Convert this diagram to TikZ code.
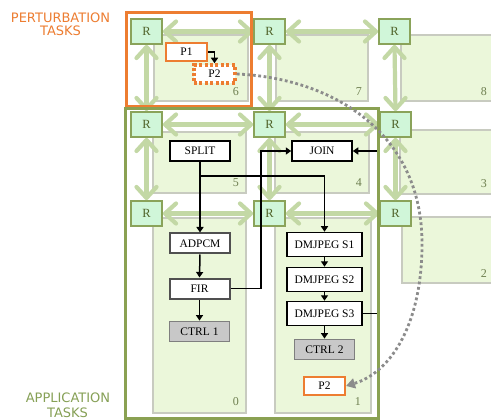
\documentclass[tikz,border=0pt]{standalone}
\usepackage{fontspec}
\setmainfont{Liberation Serif}
\newfontfamily\labelfont{DejaVu Sans}
\usetikzlibrary{arrows.meta}
\definecolor{tilefill}{HTML}{EBF7DA}
\definecolor{tileedge}{HTML}{C8CBC0}
\definecolor{rarrowc}{HTML}{C3D8A5}
\definecolor{rfill}{HTML}{D0F6D9}
\definecolor{redge}{HTML}{8AA35A}
\definecolor{rtext}{HTML}{4F6228}
\definecolor{orangec}{HTML}{ED7D31}
\definecolor{greenbox}{HTML}{8AA152}
\definecolor{greentext}{HTML}{86A055}
\definecolor{numc}{HTML}{6E7F50}
\definecolor{ctrlfill}{HTML}{C8C8C8}
\definecolor{ctrledge}{HTML}{7F7F7F}
\definecolor{curvec}{HTML}{8C8C8C}
\definecolor{darkedge}{HTML}{505050}
\newcommand\hlink[2]{\draw[rshaft] (#1.east) -- (#2.west);
  \pic[rotate=180] at (#1.east) {chev}; \pic at (#2.west) {chev};}
\newcommand\vlink[2]{\draw[rshaft] (#1.south) -- (#2.north);
  \pic[rotate=90] at (#1.south) {chev}; \pic[rotate=-90] at (#2.north) {chev};}
\begin{document}
\begin{tikzpicture}[x=1pt,y=-1pt,
  tile/.style={fill=tilefill, draw=tileedge, line width=2.8pt},
  rshaft/.style={draw=rarrowc, line width=4.2pt, shorten <=2pt, shorten >=2pt},
  chev/.pic={\draw[draw=rarrowc, line width=4.2pt, line join=round, line cap=round]
      (-13,-10) -- (-2,0) -- (-13,10);},
  router/.style={fill=rfill, draw=redge, line width=2pt, minimum width=31pt,
    minimum height=25pt, inner sep=0pt, text=rtext, font=\fontsize{12.5}{13}\selectfont},
  tilenum/.style={anchor=base east, inner sep=0pt, text=numc, font=\fontsize{12}{13}\selectfont},
  sidelab/.style={anchor=base, inner sep=0pt, font=\labelfont\fontsize{13}{14}\selectfont},
  taskbox/.style={fill=white, draw=black, line width=1.5pt, inner sep=0pt,
    minimum width=60pt, minimum height=20pt, font=\fontsize{11.5}{12}\selectfont},
  darktask/.style={taskbox, draw=darkedge, line width=2pt},
  ctrltask/.style={taskbox, fill=ctrlfill, draw=ctrledge, line width=1.8pt},
  jpegtask/.style={taskbox, minimum width=75pt, minimum height=24pt},
  ptask/.style={taskbox, draw=orangec, line width=2pt, minimum width=41pt, minimum height=18pt},
  pdotted/.style={taskbox, draw=orangec, line width=3.5pt, dash pattern=on 3pt off 2.4pt,
    minimum width=41pt, minimum height=18pt},
  conn/.style={draw=black, line width=1.5pt, -{Triangle[length=5.5pt,width=7pt]}},
  migr/.style={draw=curvec, line width=2.8pt, dash pattern=on 2.8pt off 2.6pt,
    -{Triangle[length=9pt,width=10pt]}}
]
\useasboundingbox (0,0) rectangle (491,420);
\clip (0,0) rectangle (491,420);
\fill[white] (0,0) rectangle (491,420);

% tiles
\draw[tile] (154,35) rectangle (248,101);
\draw[tile] (276,35) rectangle (368,101);
\draw[tile] (401,35) rectangle (500,101);
\draw[tile] (153,132) rectangle (246,193);
\draw[tile] (275,132) rectangle (369,193);
\draw[tile] (400,130) rectangle (500,194);
\draw[tile] (153,218) rectangle (246,413);
\draw[tile] (275,218) rectangle (371,413);
\draw[tile] (402,217) rectangle (500,283);

% tile numbers
\node[tilenum] (n6) at (239,96) {6};
\node[tilenum] (n7) at (362,96) {7};
\node[tilenum] (n8) at (487,96) {8};
\node[tilenum] (n5) at (239,187) {5};
\node[tilenum] (n4) at (362,187) {4};
\node[tilenum] (n3) at (487,188) {3};
\node[tilenum] (n2) at (487,277) {2};
\node[tilenum] (n0) at (239,405) {0};
\node[tilenum] (n1) at (361,405) {1};

% routers
\node[router] (r00) at (146.5,31.5) {R};
\node[router] (r01) at (269.5,31.5) {R};
\node[router] (r02) at (394.5,31.5) {R};
\node[router] (r10) at (146.5,124.5) {R};
\node[router] (r11) at (269.5,124.5) {R};
\node[router] (r12) at (395.5,124.5) {R};
\node[router] (r20) at (146.5,213.5) {R};
\node[router] (r21) at (269.5,213.5) {R};
\node[router] (r22) at (395.5,213.5) {R};

% router links
\hlink{r00}{r01}
\hlink{r01}{r02}
\hlink{r10}{r11}
\hlink{r11}{r12}
\hlink{r20}{r21}
\hlink{r21}{r22}
\vlink{r00}{r10}
\vlink{r01}{r11}
\vlink{r02}{r12}
\vlink{r10}{r20}
\vlink{r11}{r21}
\vlink{r12}{r22}

% application tasks
\node[taskbox] (split) at (200,151) {SPLIT};
\node[taskbox] (join) at (322,151) {JOIN};
\node[darktask] (adpcm) at (200,243.5) {ADPCM};
\node[darktask] (fir) at (199.5,288.5) {FIR};
\node[ctrltask] (ctrl1) at (199.5,331.5) {CTRL 1};
\node[jpegtask] (s1) at (324.5,244.5) {DMJPEG S1};
\node[jpegtask] (s2) at (324.5,279.5) {DMJPEG S2};
\node[jpegtask] (s3) at (324.5,313.5) {DMJPEG S3};
\node[ctrltask] (ctrl2) at (324.5,349.5) {CTRL 2};
\node[ptask] (p2a) at (324.5,386) {P2};

% perturbation tasks
\node[ptask] (p1) at (186.5,52) {P1};
\node[pdotted] (p2) at (214.5,74) {P2};

% connectors
\coordinate (sb) at (200,176);
\coordinate (fj) at (261,0);
\coordinate (sj) at (378,0);
\draw[conn] (split.south) -- (adpcm.north);
\draw[conn] (sb) -| (s1.north);
\draw[conn] (adpcm.south) -- (fir.north);
\draw[conn] (fir.south) -- (ctrl1.north);
\draw[conn] (fir.east) -| (fj |- join.west) -- (join.west);
\draw[conn] (s1.south) -- (s2.north);
\draw[conn] (s2.south) -- (s3.north);
\draw[conn] (s3.south) -- (ctrl2.north);
\draw[conn] (s3.east) -| (sj |- join.east) -- (join.east);
\draw[conn] (p1.east) -| (p2.north);

% redraw boxes over connector lines
\node[taskbox] at (split) {SPLIT};
\node[taskbox] at (join) {JOIN};
\node[darktask] at (fir) {FIR};

% group frames
\draw[draw=orangec, line width=3pt] (126,13) rectangle (251,106.5);
\draw[draw=greenbox, line width=3pt] (125.5,109) rectangle (378.5,418.5);

% migration curve
\draw[migr] (p2.east) .. controls (330,78) and (420,130) .. (422,240)
  .. controls (423,322) and (392,372) .. (p2a.east);

% side labels
\node[sidelab, text=orangec] (pl1) at (60.5,22.7) {PERTURBATION};
\node[sidelab, text=orangec] (pl2) at (60.5,36) {TASKS};
\node[sidelab, text=greentext] (al1) at (68,402) {APPLICATION};
\node[sidelab, text=greentext] (al2) at (67.5,417) {TASKS};
\end{tikzpicture}
\end{document}
